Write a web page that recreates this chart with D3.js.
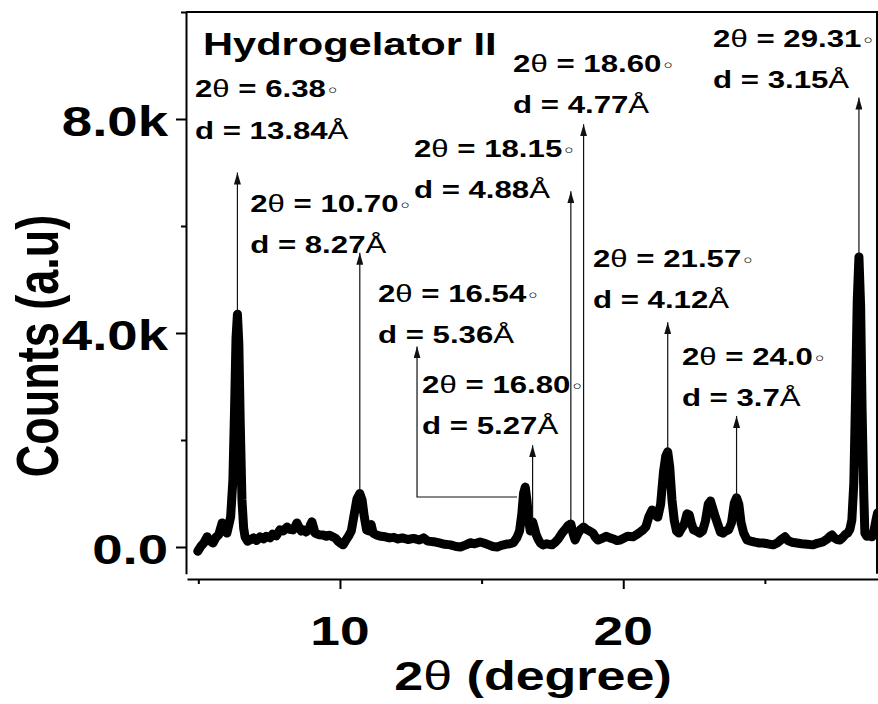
<!DOCTYPE html>
<html>
<head>
<meta charset="utf-8">
<script src="https://cdnjs.cloudflare.com/ajax/libs/d3/7.8.5/d3.min.js"></script>
<style>
  html, body { margin: 0; padding: 0; background: #fff; }
  svg { display: block; font-family: "Liberation Sans", Arial, sans-serif; }
</style>
</head>
<body>
<svg id="chart" width="878" height="704"></svg>
<script>
// powder XRD trace: 2θ (deg) against counts
const twoTheta = [
  4.98, 5.10, 5.20, 5.31, 5.40, 5.52, 5.62, 5.72, 5.84, 5.93, 6.01, 6.08, 6.14, 6.22, 6.28, 6.33, 6.38, 6.43, 6.48, 6.54,
  6.60, 6.65, 6.74, 6.82, 6.95, 7.05, 7.18, 7.30, 7.40, 7.53, 7.62, 7.75, 7.88, 8.00, 8.13, 8.22, 8.34, 8.42, 8.48, 8.56,
  8.63, 8.70, 8.80, 8.90, 8.96, 9.01, 9.06, 9.12, 9.25, 9.40, 9.52, 9.62, 9.75, 9.85, 9.95, 10.05, 10.11, 10.20, 10.30, 10.40,
  10.50, 10.60, 10.70, 10.78, 10.86, 10.94, 11.02, 11.10, 11.17, 11.30, 11.45, 11.60, 11.75, 11.90, 12.05, 12.20, 12.40, 12.60, 12.80, 12.95,
  13.10, 13.30, 13.50, 13.70, 13.90, 14.10, 14.25, 14.45, 14.60, 14.75, 14.95, 15.10, 15.25, 15.40, 15.55, 15.70, 15.85, 16.00, 16.12, 16.25,
  16.34, 16.42, 16.48, 16.54, 16.60, 16.66, 16.72, 16.76, 16.80, 16.85, 16.92, 17.00, 17.08, 17.17, 17.30, 17.48, 17.60, 17.72, 17.84, 17.95,
  18.05, 18.15, 18.23, 18.30, 18.40, 18.50, 18.60, 18.70, 18.80, 18.93, 19.02, 19.11, 19.25, 19.40, 19.53, 19.65, 19.78, 19.89, 20.00, 20.15,
  20.34, 20.50, 20.60, 20.70, 20.80, 20.90, 21.02, 21.12, 21.22, 21.32, 21.42, 21.50, 21.57, 21.64, 21.72, 21.80, 21.88, 21.96, 22.05, 22.15,
  22.25, 22.33, 22.40, 22.48, 22.58, 22.70, 22.80, 22.90, 23.00, 23.08, 23.16, 23.25, 23.34, 23.43, 23.52, 23.62, 23.72, 23.82, 23.92, 24.00,
  24.08, 24.16, 24.25, 24.37, 24.50, 24.65, 24.80, 24.93, 25.10, 25.29, 25.45, 25.58, 25.71, 25.82, 25.95, 26.13, 26.30, 26.50, 26.70, 26.85,
  27.05, 27.20, 27.30, 27.37, 27.45, 27.55, 27.65, 27.75, 27.85, 27.92, 28.00, 28.07, 28.14, 28.20, 28.26, 28.32, 28.38, 28.43, 28.49, 28.53,
  28.60, 28.70, 28.78, 28.85, 28.92, 28.98
];
const counts = [
  -80, 20, 80, 190, 120, 75, 180, 230, 450, 330, 260, 420, 560, 1250, 2600, 3900, 4350, 3800, 2300, 880,
  350, 190, 110, 130, 170, 120, 190, 150, 200, 170, 240, 210, 320, 300, 375, 330, 320, 380, 450, 360,
  300, 320, 280, 320, 420, 470, 380, 260, 230, 225, 200, 220, 190, 160, 100, 60, 40, 120, 200, 300,
  600, 900, 1000, 880, 560, 320, 300, 420, 260, 220, 200, 190, 170, 180, 150, 170, 140, 160, 130, 170,
  110, 100, 75, 50, 40, 10, 0, 40, 80, 60, 95, 70, 40, 10, 0, 30, 50, 60, 80, 180,
  300, 620, 1000, 1120, 880, 500, 300, 350, 470, 380, 240, 140, 70, 40, 60, 40, 90, 160, 260, 330,
  400, 430, 250, 130, 250, 330, 370, 330, 300, 260, 180, 130, 160, 200, 170, 150, 120, 130, 160, 200,
  190, 240, 280, 320, 380, 560, 690, 600, 560, 800, 1400, 1700, 1780, 1500, 880, 500, 300, 260, 340, 420,
  620, 600, 450, 320, 300, 260, 300, 480, 800, 860, 720, 560, 420, 280, 260, 300, 320, 450, 820, 920,
  800, 450, 260, 130, 110, 90, 75, 75, 60, 40, 80, 140, 190, 120, 90, 75, 60, 50, 40, 70,
  95, 150, 200, 225, 170, 140, 130, 180, 240, 260, 330, 505, 1200, 2800, 4600, 5420, 4500, 2600, 1000, 260,
  200, 210, 190, 300, 500, 640
];

// peak annotations
const peakTheta = ["6.38", "10.70", "16.54", "16.80", "18.15", "18.60", "21.57", "24.0", "29.31"];
const peakD = ["13.84", "8.27", "5.36", "5.27", "4.88", "4.77", "4.12", "3.7", "3.15"];
const arrowX = [6.38, 10.70, 12.72, 16.80, 18.15, 18.60, 21.57, 24.0, 28.32];
const arrowFootX = [null, null, 16.25, null, null, null, null, null, null];
const arrowBase = [4350, 1000, 935, 470, 430, 370, 1780, 920, 5420];
const arrowTip = [7000, 5500, 3750, 1900, 6650, 7900, 4200, 2450, 8400];
const labelX = [4.88, 6.83, 11.34, 12.90, 12.61, 16.11, 18.93, 22.07, 23.17];
const labelY = [8410, 6262, 4580, 2880, 7290, 8880, 5234, 3402, 9346];

const yTicks = [0, 4000, 8000];
const yTickLabels = ["0.0", "4.0k", "8.0k"];
const yMinor = [2000, 6000, 10000];
const xTicks = [10, 20];
const xMinor = [5, 15, 25];

const SX = 1.3; // text is drawn wide
const svg = d3.select("#chart");

const x = d3.scaleLinear().domain([4.6, 29]).range([187, 878.2]);
const y = d3.scaleLinear().domain([-500, 10000]).range([573.75, 12]);

function wideText(px, py, anchor, size) {
  return svg.append("text")
    .attr("transform", `translate(${px},${py}) scale(${SX},1)`)
    .attr("text-anchor", anchor)
    .attr("font-size", size)
    .attr("font-weight", "bold")
    .attr("fill", "#000");
}

// axes
svg.append("g").attr("transform", "translate(186,0)")
  .call(d3.axisLeft(y).tickValues(yTicks).tickSize(10).tickSizeOuter(0).tickFormat(""));
svg.append("g").attr("transform", "translate(186,0)")
  .call(d3.axisLeft(y).tickValues(yMinor).tickSize(5).tickSizeOuter(0).tickFormat(""))
  .select(".domain").remove();
svg.append("g").attr("transform", "translate(0,579)")
  .call(d3.axisBottom(x).tickValues(xTicks).tickSize(10).tickSizeOuter(0).tickFormat(""));
svg.append("g").attr("transform", "translate(0,579)")
  .call(d3.axisBottom(x).tickValues(xMinor).tickSize(5).tickSizeOuter(0).tickFormat(""))
  .select(".domain").remove();
svg.selectAll(".domain, .tick line").attr("stroke", "#000").attr("stroke-width", 2);

// top and right frame
svg.append("path")
  .attr("d", `M186,${y(10000)}H877V${y(-500)}`)
  .attr("fill", "none").attr("stroke", "#000").attr("stroke-width", 2);

yTicks.forEach((v, i) => wideText(168, y(v) + 17, "end", 42).text(yTickLabels[i]));
xTicks.forEach(v => wideText(x(v), 645, "middle", 41).text(v));

// axis titles
const xt = wideText(533, 690, "middle", 40);
xt.append("tspan").text("2");
xt.append("tspan").attr("font-weight", "normal").text("θ");
xt.append("tspan").text(" (degree)");

svg.append("text")
  .attr("transform", `translate(58,346) scale(${SX},1) rotate(-90)`)
  .attr("text-anchor", "middle")
  .attr("font-size", 45)
  .attr("font-weight", "bold")
  .text("Counts (a.u)");

wideText(203, 55, "start", 32).text("Hydrogelator II");

// pattern
const line = d3.line().x(i => x(twoTheta[i])).y(i => y(counts[i]));
svg.append("path")
  .attr("d", line(d3.range(twoTheta.length)))
  .attr("fill", "none")
  .attr("stroke", "#000")
  .attr("stroke-width", 9)
  .attr("stroke-linejoin", "round")
  .attr("stroke-linecap", "round");

// arrows
svg.append("defs").append("marker")
  .attr("id", "arrow")
  .attr("viewBox", "0 -3.5 12 7")
  .attr("refX", 12)
  .attr("refY", 0)
  .attr("markerUnits", "userSpaceOnUse")
  .attr("markerWidth", 12)
  .attr("markerHeight", 7)
  .attr("orient", "auto")
  .append("path")
  .attr("d", "M0,-3.5L12,0L0,3.5Z")
  .attr("fill", "#111");

arrowX.forEach((ax, i) => {
  const foot = arrowFootX[i];
  const d = foot == null
    ? `M${x(ax)},${y(arrowBase[i])}V${y(arrowTip[i])}`
    : `M${x(foot)},${y(arrowBase[i])}H${x(ax)}V${y(arrowTip[i])}`;
  svg.append("path")
    .attr("d", d)
    .attr("fill", "none")
    .attr("stroke", "#111")
    .attr("stroke-width", 1.2)
    .attr("marker-end", "url(#arrow)");
});

// labels: 2θ and d-spacing
peakTheta.forEach((t, i) => {
  const px = x(labelX[i]), py = y(labelY[i]);
  const t1 = wideText(px, py, "start", 24);
  t1.append("tspan").text("2");
  t1.append("tspan").attr("font-weight", "normal").text("θ");
  t1.append("tspan").text(` = ${t}`);
  t1.append("tspan").attr("font-weight", "normal").attr("font-family", "DejaVu Sans").attr("font-size", 18).text("◦");
  const t2 = wideText(px, py + 41.5, "start", 24);
  t2.append("tspan").text(`d = ${peakD[i]}`);
  t2.append("tspan").attr("font-weight", "normal").text("Å");
});
</script>
</body>
</html>
